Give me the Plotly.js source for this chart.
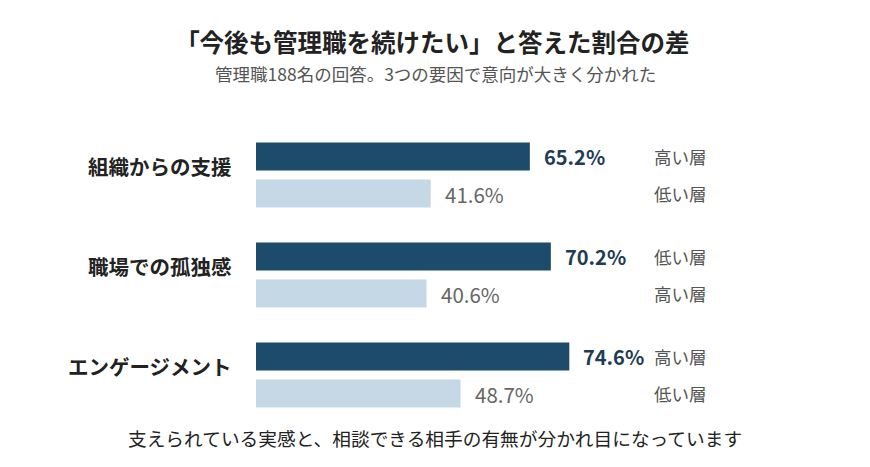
<!DOCTYPE html>
<html>
<head>
<meta charset="utf-8">
<script src="https://cdn.plot.ly/plotly-3.0.1.min.js"></script>
<style>
  html, body { margin: 0; padding: 0; background: #ffffff; }
  #chart { width: 870px; height: 467px; }
</style>
</head>
<body>
<div id="chart"></div>
<script>
// data
const categories = ['組織からの支援', '職場での孤独感', 'エンゲージメント'];
const darkValues = [65.2, 70.2, 74.6];
const lightValues = [41.6, 40.6, 48.7];
const darkLayers = ['高い層', '低い層', '高い層'];
const lightLayers = ['低い層', '高い層', '低い層'];

const FONT = '"Noto Sans CJK JP", "Noto Sans", sans-serif';
const DARK = '#1d4b6b';
const LIGHT = '#c4d8e5';

const traceDark = {
    type: 'bar',
    orientation: 'h',
    x: darkValues,
    y: categories,
    marker: { color: DARK },
    hoverinfo: 'skip'
};

const traceLight = {
    type: 'bar',
    orientation: 'h',
    x: lightValues,
    y: categories,
    marker: { color: LIGHT },
    hoverinfo: 'skip'
};

const BAR_SHIFT = 18.5;
const annotations = [];

categories.forEach((cat, i) => {
    // category label
    annotations.push({
        xref: 'paper', yref: 'y', x: 0, y: cat,
        xanchor: 'right', yanchor: 'middle', xshift: -22, yshift: 9.5,
        text: '<b>' + cat + '</b>', showarrow: false,
        font: { family: FONT, size: 20.5, color: '#222222' }
    });
    // value labels
    annotations.push({
        xref: 'x', yref: 'y', x: darkValues[i], y: cat,
        xanchor: 'left', yanchor: 'middle', xshift: 12, yshift: BAR_SHIFT,
        text: '<b>' + darkValues[i].toFixed(1) + '%</b>', showarrow: false,
        font: { family: FONT, size: 20, color: '#1e3c55' }
    });
    annotations.push({
        xref: 'x', yref: 'y', x: lightValues[i], y: cat,
        xanchor: 'left', yanchor: 'middle', xshift: 12, yshift: -BAR_SHIFT,
        text: lightValues[i].toFixed(1) + '%', showarrow: false,
        font: { family: FONT, size: 20.5, color: '#666666' }
    });
    // layer labels
    annotations.push({
        xref: 'paper', yref: 'y', x: 0.943, y: cat,
        xanchor: 'left', yanchor: 'middle', yshift: BAR_SHIFT,
        text: darkLayers[i], showarrow: false,
        font: { family: FONT, size: 17.5, color: '#555555' }
    });
    annotations.push({
        xref: 'paper', yref: 'y', x: 0.943, y: cat,
        xanchor: 'left', yanchor: 'middle', yshift: -BAR_SHIFT,
        text: lightLayers[i], showarrow: false,
        font: { family: FONT, size: 17.5, color: '#555555' }
    });
});

// subtitle and footer
annotations.push({
    xref: 'paper', yref: 'paper', x: 0.427, y: 1.173,
    xanchor: 'center', yanchor: 'middle',
    text: '管理職188名の回答。3つの要因で意向が大きく分かれた', showarrow: false,
    font: { family: FONT, size: 17.5, color: '#555555' }
});
annotations.push({
    xref: 'paper', yref: 'paper', x: 0.427, y: -0.043,
    xanchor: 'center', yanchor: 'middle',
    text: '支えられている実感と、相談できる相手の有無が分かれ目になっています', showarrow: false,
    font: { family: FONT, size: 18.7, color: '#222222' }
});

const layout = {
    width: 870,
    height: 467,
    paper_bgcolor: '#ffffff',
    plot_bgcolor: '#ffffff',
    font: { family: FONT },
    title: {
        text: '<b>「今後も管理職を続けたい」と答えた割合の差</b>',
        x: 0.497, xanchor: 'center',
        y: 0.908, yanchor: 'middle',
        font: { family: FONT, size: 24.5, color: '#222222' }
    },
    margin: { l: 256, r: 194, t: 125, b: 42 },
    barmode: 'group',
    bargap: 0.26,
    bargroupgap: 0.24,
    showlegend: false,
    xaxis: {
        range: [0, 100],
        visible: false,
        fixedrange: true
    },
    yaxis: {
        autorange: 'reversed',
        showticklabels: false,
        showgrid: false,
        zeroline: false,
        showline: false,
        ticks: '',
        fixedrange: true
    },
    annotations: annotations
};

Plotly.newPlot('chart', [traceDark, traceLight], layout, { displayModeBar: false, staticPlot: true });
</script>
</body>
</html>
